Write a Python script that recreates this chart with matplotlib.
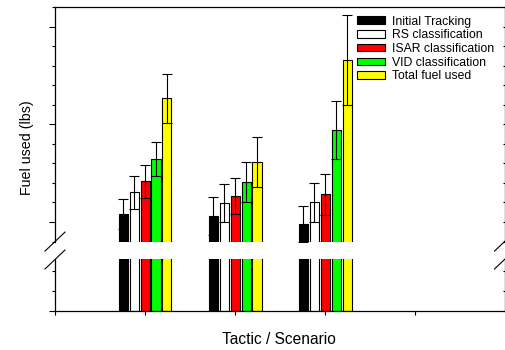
import matplotlib
matplotlib.use('Agg')
import matplotlib.pyplot as plt
import numpy as np
from matplotlib.lines import Line2D
from matplotlib.ticker import MultipleLocator, FixedLocator

plt.rcParams['font.family'] = ['Liberation Sans', 'DejaVu Sans']

# ---- data ----
scenarios = [1, 2, 3]
series = ['Initial Tracking', 'RS classification', 'ISAR classification',
          'VID classification', 'Total fuel used']
colors = ['#000000', '#ffffff', '#ff0000', '#00ff00', '#ffff00']
initial = [104.0, 103.1, 99.0]
initial_err = [7.7, 9.7, 9.2]
rs = [115.2, 109.6, 110.1]
rs_err = [8.3, 9.7, 10.0]
isar = [120.8, 113.2, 114.2]
isar_err = [8.5, 9.2, 10.5]
vid = [132.1, 120.3, 147.1]
vid_err = [8.7, 10.2, 15.0]
total = [163.3, 130.6, 182.7]
total_err = [12.6, 12.7, 23.0]
values = [initial, rs, isar, vid, total]
errors = [initial_err, rs_err, isar_err, vid_err, total_err]

W, H = 506, 350
def fx(px): return px / W
def fy(py): return 1 - py / H

fig = plt.figure(figsize=(W / 100, H / 100), dpi=100)
L, R = 55, 505.5
ax_top = fig.add_axes([fx(L), fy(241.6), fx(R) - fx(L), fy(7) - fy(241.6)])
ax_bot = fig.add_axes([fx(L), fy(311), fx(R) - fx(L), fy(259) - fy(311)])

width = 0.1
step = 0.121
x = np.array(scenarios, dtype=float)
handles = []
for i, (vals, errs, c, name) in enumerate(zip(values, errors, colors, series)):
    xs = x + (i - 2) * step
    for ax in (ax_top, ax_bot):
        b = ax.bar(xs, vals, width=width, color=c, edgecolor='black',
                   linewidth=0.8, label=name, zorder=2)
    ax_top.errorbar(xs, vals, yerr=errs, fmt='none', ecolor='black',
                    elinewidth=0.8, capsize=3.6, capthick=0.8, zorder=3)
    handles.append(b)

ax_top.set_ylim(90, 210)
ax_bot.set_ylim(0, 25.7)
for ax in (ax_top, ax_bot):
    ax.set_xlim(0, 5)
    for s in ax.spines.values():
        s.set_linewidth(0.9)
    ax.yaxis.set_major_locator(MultipleLocator(50))
    ax.yaxis.set_minor_locator(MultipleLocator(10))
    ax.tick_params(axis='y', which='major', direction='out', length=4.5,
                   width=0.8, labelleft=False)
    ax.tick_params(axis='y', which='minor', direction='out', length=2.5,
                   width=0.8)
    tw = ax.twinx()
    tw.set_ylim(ax.get_ylim())
    tw.yaxis.set_major_locator(MultipleLocator(50))
    tw.yaxis.set_minor_locator(MultipleLocator(10))
    tw.tick_params(axis='y', which='both', direction='in', length=2.5,
                   width=0.8, labelright=False)
    for s in tw.spines.values():
        s.set_visible(False)
    tw.set_xlim(0, 5)
    tw.tick_params(axis='x', which='both', bottom=False, top=False,
                   labelbottom=False)

ax_top.spines['bottom'].set_visible(False)
ax_top.tick_params(axis='x', which='both', bottom=False, top=False,
                   labelbottom=False)
ax_bot.spines['top'].set_visible(False)
ax_bot.xaxis.set_major_locator(FixedLocator([0, 1, 2, 3, 4, 5]))
ax_bot.tick_params(axis='x', which='major', direction='out', length=3,
                   width=0.8, labelbottom=False, top=False)

# break marks
for yc in (241.6, 259.5):
    fig.add_artist(Line2D([fx(L - 10), fx(L + 10)], [fy(yc + 9.5), fy(yc - 9.5)],
                          color='black', lw=0.8))
    fig.add_artist(Line2D([fx(R - 11), fx(R + 9)], [fy(yc + 9.5), fy(yc - 9.5)],
                          color='black', lw=0.8))

fig.legend(handles=handles, labels=series, loc='upper left',
           bbox_to_anchor=(fx(357.3), fy(15.5)), frameon=False,
           fontsize=8.8, handlelength=2.3, handleheight=0.55,
           handletextpad=0.5, labelspacing=0.14, borderpad=0,
           borderaxespad=0)

fig.text(fx(279), fy(340), 'Tactic / Scenario', ha='center', va='center',
         fontsize=11.2)
fig.text(fx(27), fy(148), 'Fuel used (lbs)', ha='center', va='center',
         rotation=90, fontsize=10.3)

fig.savefig('out.png', dpi=100)
